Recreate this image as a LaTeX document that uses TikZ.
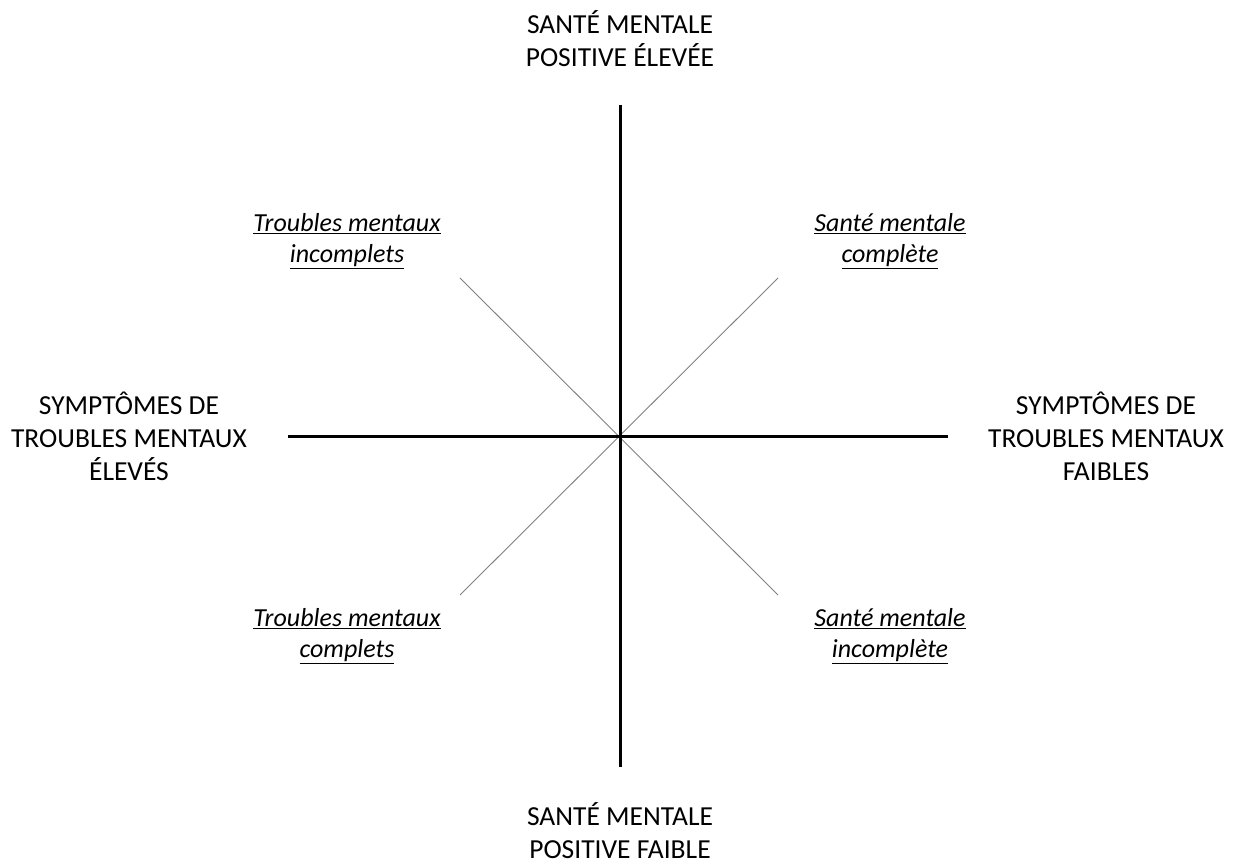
\documentclass[tikz,border=0pt]{standalone}
\usepackage{fontspec}
\setmainfont{Carlito}
\usepackage{tikz}
\usetikzlibrary{positioning}
\usetikzlibrary{calc}

\newcommand{\ul}[1]{\underline{\textit{#1}}}

\begin{document}
\begin{tikzpicture}[x=1pt, y=-1pt, thick,
  axe/.style={line width=3pt},
  diag/.style={line width=0.9pt, gray},
  titre/.style={align=center, font=\fontsize{27.5}{33}\selectfont},
  quad/.style={align=center, font=\fontsize{26}{31}\selectfont}]

\useasboundingbox (0,0) rectangle (1236,864);

\coordinate (o) at (620,436);

% axes
\coordinate (n) at (620,105);
\coordinate (s) at (620,767);
\coordinate (w) at (288,436);
\coordinate (e) at (948,436);

% diagonales
\coordinate (nw) at (460,278);
\coordinate (ne) at (778,278);
\coordinate (sw) at (460,595);
\coordinate (se) at (778,595);

\draw[diag] (nw) -- (se);
\draw[diag] (ne) -- (sw);
\draw[axe] (n) -- (s);
\draw[axe] (w) -- (e);

\node[titre] (tn) at (620,39) {SANTÉ MENTALE\\POSITIVE ÉLEVÉE};
\node[titre] (ts) at (620,831) {SANTÉ MENTALE\\POSITIVE FAIBLE};
\node[titre] (tw) at (129,436) {SYMPTÔMES DE\\TROUBLES MENTAUX\\ÉLEVÉS};
\node[titre] (te) at (1106,436) {SYMPTÔMES DE\\TROUBLES MENTAUX\\FAIBLES};

\node[quad] (qnw) at (347,241) {\ul{Troubles mentaux}\\\ul{incomplets}};
\node[quad] (qne) at (890,241) {\ul{Santé mentale}\\\ul{complète}};
\node[quad] (qsw) at (347,636) {\ul{Troubles mentaux}\\\ul{complets}};
\node[quad] (qse) at (890,636) {\ul{Santé mentale}\\\ul{incomplète}};

\end{tikzpicture}
\end{document}
